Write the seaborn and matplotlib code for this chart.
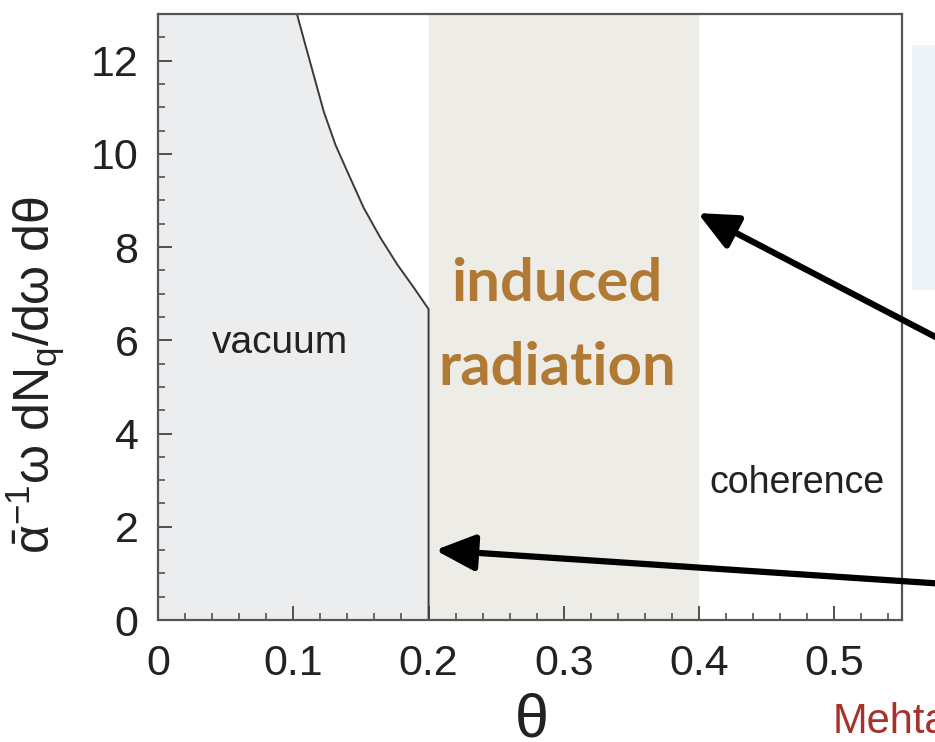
import seaborn as sns
import numpy as np
import matplotlib.pyplot as plt
from matplotlib.ticker import MultipleLocator
from matplotlib.patches import Rectangle

# Data
theta = [0.1027, 0.1089, 0.1151, 0.1225, 0.1311, 0.1398, 0.1521, 0.1644,
         0.1768, 0.1891, 0.2000, 0.2000]
spectrum = [13.0, 12.34, 11.69, 10.91, 10.20, 9.63, 8.84, 8.20,
            7.63, 7.13, 6.67, 0.0]
band_induced = (0.2, 0.4)
x_ticks = [0, 0.1, 0.2, 0.3, 0.4, 0.5]
x_ticklabels = ['0', '0.1', '0.2', '0.3', '0.4', '0.5']
y_ticks = [0, 2, 4, 6, 8, 10, 12]

sns.set_style('white')
plt.rcParams['font.family'] = ['Liberation Sans', 'DejaVu Sans']
plt.rcParams['mathtext.fontset'] = 'custom'
plt.rcParams['mathtext.rm'] = 'Liberation Sans'
plt.rcParams['mathtext.it'] = 'Liberation Sans'
plt.rcParams['mathtext.bf'] = 'Liberation Sans:bold'

fig = plt.figure(figsize=(9.35, 7.42), dpi=100)
ax = fig.add_axes([158/935, 1 - 620/742, (902-158)/935, (620-14)/742])

# regions
ax.axvspan(*band_induced, color='#edece6', lw=0, zorder=0)
ax.fill_between([0] + theta, 0, [13] + spectrum, color='#ecedee', lw=0, zorder=0.5)
sns.lineplot(x=theta, y=spectrum, sort=False, estimator=None, color='#3a3a3a', lw=1.4, ax=ax, zorder=2)

ax.set_xlim(0, 0.55)
ax.set_ylim(0, 13)
ax.set_xticks(x_ticks)
ax.set_xticklabels(x_ticklabels)
ax.set_yticks(y_ticks)
ax.xaxis.set_minor_locator(MultipleLocator(0.02))
ax.yaxis.set_minor_locator(MultipleLocator(0.5))
ax.tick_params(which='major', direction='in', length=10, width=1.3, color='#444',
               labelsize=31, labelcolor='#222')
ax.tick_params(which='minor', direction='in', length=5, width=1.1, color='#444')
ax.tick_params(axis='y', pad=14, left=True, which='both')
ax.tick_params(axis='x', pad=17, bottom=True, which='both')
for s in ax.spines.values():
    s.set_color('#555')
    s.set_linewidth(1.6)

ax.set_xlabel(r'$\theta$', fontsize=44, color='#222')
ax.xaxis.set_label_coords(0.5, -0.12)
ax.set_ylabel(r'$\bar{\alpha}^{-1}\omega\ \mathrm{d}N_q/\mathrm{d}\omega\ \mathrm{d}\theta$',
              fontsize=36, color='#222')
ax.yaxis.set_label_coords(-0.122, 0.405)

# labels inside the plot
ax.text(0.09, 5.95, 'vacuum', fontsize=28, color='#222', ha='center', va='center')
ax.text(0.4726, 2.93, 'coherence', fontsize=27, color='#222', ha='center', va='center')
ax.text(0.295, 7.2, 'induced', fontsize=43, color='#b07a34', ha='center', va='center',
        family=['Lato', 'DejaVu Sans'], fontweight='bold')
ax.text(0.295, 5.4, 'radiation', fontsize=43, color='#b07a34', ha='center', va='center',
        family=['Lato', 'DejaVu Sans'], fontweight='bold')

# arrows coming in from the right
arrow_kw = dict(arrowstyle='-|>,head_length=1.2,head_width=0.55', lw=4.5, color='black',
                mutation_scale=20, shrinkA=0, shrinkB=0)
ax.annotate('', xy=(0.399, 8.73), xytext=(0.594, 5.78), arrowprops=arrow_kw,
            annotation_clip=False)
ax.annotate('', xy=(0.205, 1.50), xytext=(0.594, 0.75), arrowprops=arrow_kw,
            annotation_clip=False)

# faint light blue glow on the right edge
fig.patches.append(Rectangle((912/935, 1 - 290/742), 40/935, 245/742,
                             transform=fig.transFigure, color='#eef4f7', lw=0, zorder=-1))

fig.text(833/935, 1 - 722/742, 'Mehta', fontsize=30, color='#a8312b', ha='left', va='center')

fig.savefig('out.png', dpi=100)
